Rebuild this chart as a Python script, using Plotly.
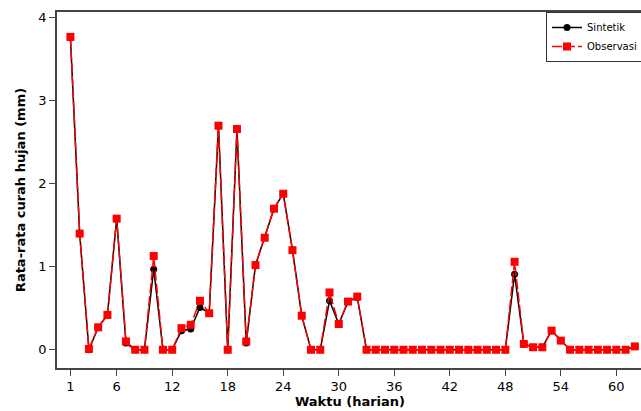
import plotly.graph_objects as go

days = list(range(1, 63))

sintetik = [3.76, 1.40, 0.00, 0.27, 0.42, 1.58, 0.08, 0.00, 0.00, 0.97,
            0.00, 0.00, 0.23, 0.25, 0.51, 0.44, 2.70, 0.00, 2.66, 0.08,
            1.02, 1.35, 1.70, 1.88, 1.20, 0.41, 0.00, 0.00, 0.59, 0.31,
            0.58, 0.63, 0.00, 0.00, 0.00, 0.00, 0.00, 0.00, 0.00, 0.00,
            0.00, 0.00, 0.00, 0.00, 0.00, 0.00, 0.00, 0.00, 0.91, 0.07,
            0.03, 0.03, 0.23, 0.11, 0.00, 0.00, 0.00, 0.00, 0.00, 0.00,
            0.00, 0.04]

observasi = [3.77, 1.40, 0.01, 0.27, 0.42, 1.58, 0.10, 0.00, 0.00, 1.13,
             0.00, 0.00, 0.26, 0.30, 0.59, 0.44, 2.70, 0.00, 2.66, 0.10,
             1.02, 1.35, 1.70, 1.88, 1.20, 0.41, 0.00, 0.00, 0.69, 0.31,
             0.58, 0.64, 0.00, 0.00, 0.00, 0.00, 0.00, 0.00, 0.00, 0.00,
             0.00, 0.00, 0.00, 0.00, 0.00, 0.00, 0.00, 0.00, 1.06, 0.07,
             0.03, 0.03, 0.23, 0.11, 0.00, 0.00, 0.00, 0.00, 0.00, 0.00,
             0.00, 0.04]

x_ticks = [1, 6, 12, 18, 24, 30, 36, 42, 48, 54, 60]
y_ticks = [0, 1, 2, 3, 4]

FONT = "DejaVu Sans"

fig = go.Figure()
fig.add_trace(go.Scatter(
    x=days, y=sintetik, name="Sintetik", mode="lines+markers",
    line=dict(color="black", width=1.5),
    marker=dict(symbol="circle", size=7, color="black"),
    cliponaxis=False,
))
fig.add_trace(go.Scatter(
    x=days, y=observasi, name="Observasi", mode="lines+markers",
    line=dict(color="#ff0000", width=1.5, dash="10px,3px"),
    marker=dict(symbol="square", size=8, color="#ff0000"),
    cliponaxis=False,
))

fig.update_layout(
    width=645, height=411,
    margin=dict(l=57, r=0, t=12, b=43),
    paper_bgcolor="white", plot_bgcolor="white",
    font=dict(family=FONT, size=12, color="black"),
    showlegend=True,
    legend=dict(
        x=1.0, y=1.0, xanchor="right", yanchor="top",
        bordercolor="#333333", borderwidth=1, bgcolor="white",
        font=dict(family=FONT, size=10),
        tracegroupgap=0,
    ),
)

fig.update_xaxes(
    range=[-0.45, 62.88],
    tickmode="array", tickvals=x_ticks, ticktext=[str(t) for t in x_ticks],
    ticks="outside", ticklen=6, tickcolor="#444444",
    showline=True, linecolor="#444444", linewidth=1.5, mirror=True,
    showgrid=False, zeroline=False,
    tickfont=dict(family=FONT, size=13),
    title=dict(text="<b>Waktu (harian)</b>", font=dict(family=FONT, size=13), standoff=4),
)
fig.update_yaxes(
    range=[-0.22, 4.07],
    tickmode="array", tickvals=y_ticks, ticktext=[str(t) for t in y_ticks],
    ticks="outside", ticklen=6, tickcolor="#444444",
    showline=True, linecolor="#444444", linewidth=1.5, mirror=True,
    showgrid=False, zeroline=False,
    tickfont=dict(family=FONT, size=13),
    title=dict(text="<b>Rata-rata curah hujan (mm)</b>", font=dict(family=FONT, size=13), standoff=10),
)

fig.write_html("out.html", config={"displayModeBar": False},
               post_script="document.body.style.margin='0';document.body.style.overflow='hidden';")
